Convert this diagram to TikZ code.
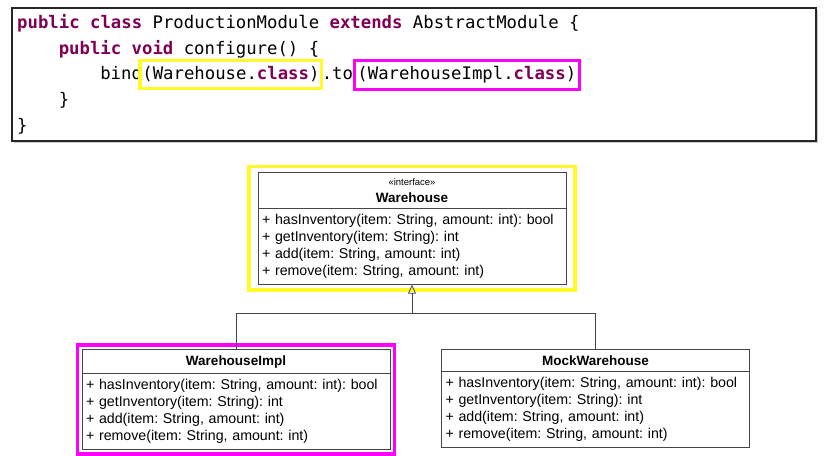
\documentclass[tikz,border=0pt]{standalone}
\usepackage{fontspec}
\setmainfont{Liberation Sans}
\newfontfamily\codefont{DejaVu Sans Mono}
\usepackage{xcolor}
\usepackage{tikz}
\usetikzlibrary{arrows.meta, positioning, shapes.multipart, fit, shadows}
\definecolor{kwPurple}{RGB}{127,0,85}
\definecolor{hlYellow}{RGB}{255,250,40}
\definecolor{hlMagenta}{RGB}{255,0,255}
\definecolor{umlLine}{RGB}{70,70,70}
\newcommand{\kw}[1]{\textcolor{kwPurple}{\bfseries #1}}
\newcommand{\umlhead}[1]{\makebox[300pt][c]{#1}}

\begin{document}
\begin{tikzpicture}[x=1pt, y=-1pt,
    code/.style={anchor=base west, inner sep=0pt, font=\codefont\fontsize{17.3}{20}\selectfont},
    codeframe/.style={rectangle, draw=black!85, line width=1.4pt, fill=white, minimum width=804pt, minimum height=133pt, drop shadow={shadow xshift=1.5pt, shadow yshift=-1.5pt, opacity=0.4}},
    umlclass/.style={rectangle split, rectangle split parts=2, draw=umlLine, line width=0.8pt, fill=white, text width=300pt, align=left, inner xsep=4pt, inner ysep=5.5pt, anchor=north, font=\fontsize{14.2}{17}\selectfont\frenchspacing},
    hlbox/.style={rectangle, line width=3.5pt, inner sep=0pt},
    inherit/.style={-{Triangle[open, length=9pt, width=8pt]}, draw=umlLine, line width=0.8pt},
    umlline/.style={draw=umlLine, line width=0.8pt}
]
\useasboundingbox (0,0) rectangle (832,455);

% Guice module source
\node[codeframe] (codebox) at (414,74.5) {};
\node[code] (decl) at (17,28.5) {\kw{public} \kw{class} ProductionModule \kw{extends} AbstractModule \{};
\node[code] (configure) at (58.6,54.2) {\kw{public} \kw{void} configure() \{};
\node[code] (bindcall) at (100.1,79.9) {bind};
\node[code] (whcls) at (bindcall.base east) {(Warehouse.\kw{class})};
\node[code, xshift=2pt] (tocall) at (whcls.base east) {.to};
\node[code, xshift=4pt] (implcls) at (tocall.base east) {(WarehouseImpl.\kw{class})};
\node[code] (closeinner) at (58.6,105.6) {\}};
\node[code] (closeouter) at (17,131.3) {\}};

% Class diagram
\node[umlclass] (iface) at (412,172) {\umlhead{\fontsize{9.5}{11}\selectfont «interface»}\\\umlhead{\bfseries\fontsize{13.5}{17}\selectfont Warehouse}
  \nodepart{two}+ hasInventory(item: String, amount: int): bool\\+ getInventory(item: String): int\\+ add(item: String, amount: int)\\+ remove(item: String, amount: int)};
\node[umlclass] (impl) at (236,349) {\umlhead{\bfseries\fontsize{13.5}{17}\selectfont WarehouseImpl}
  \nodepart{two}+ hasInventory(item: String, amount: int): bool\\+ getInventory(item: String): int\\+ add(item: String, amount: int)\\+ remove(item: String, amount: int)};
\node[umlclass] (mock) at (595.5,349) {\umlhead{\bfseries\fontsize{13.5}{17}\selectfont MockWarehouse}
  \nodepart{two}+ hasInventory(item: String, amount: int): bool\\+ getInventory(item: String): int\\+ add(item: String, amount: int)\\+ remove(item: String, amount: int)};

% Highlights
\node[hlbox, draw=hlYellow, fit=(whcls), inner xsep=2pt, inner ysep=6pt] (hlbind) {};
\node[hlbox, draw=hlMagenta, fit=(implcls), inner xsep=3pt, inner ysep=6pt] (hlto) {};
\node[hlbox, draw=hlYellow, fit=(iface), inner xsep=8.5pt, inner ysep=5.5pt] (hliface) {};
\node[hlbox, draw=hlMagenta, fit=(impl), inner sep=4pt] (hlimpl) {};

% Generalization
\coordinate (bus) at (412,313);
\draw[inherit] (impl.north) |- (bus) -- (iface.south);
\draw[umlline] (mock.north) |- (bus);

\end{tikzpicture}
\end{document}
